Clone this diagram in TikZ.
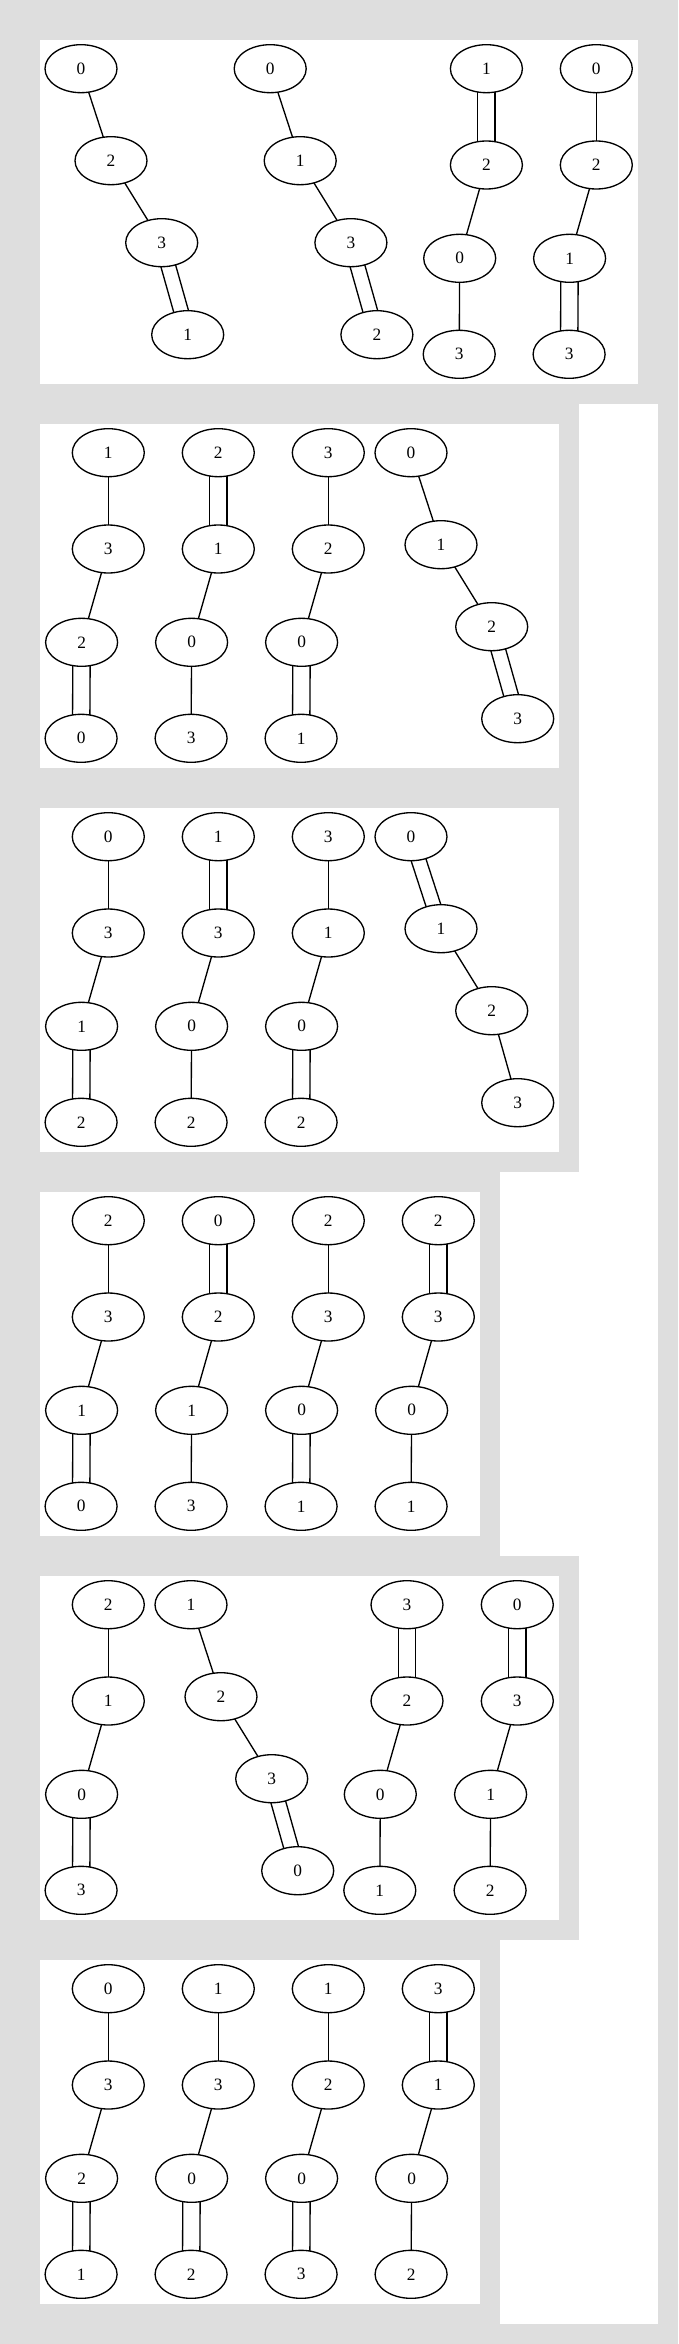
\documentclass[tikz,border=0pt]{standalone}
\usepackage{fontspec}
\setmainfont{Liberation Serif}
\usetikzlibrary{calc,shapes.geometric}
\pgfdeclarelayer{panels}
\pgfdeclarelayer{edges}
\pgfsetlayers{panels,edges,main}
\definecolor{clgray}{RGB}{222,222,222}
\tikzset{
  vtx/.style={ellipse, draw, fill=white, line width=1pt, minimum width=54pt,
    minimum height=36pt, inner sep=0pt, font=\fontsize{13}{13}\selectfont},
  lnk/.style={line width=1pt},
}
\newcommand\dbl[3]{%
  \draw[lnk] ($(#1.center)!#3!90:(#2.center)$) -- ($(#2.center)!#3!-90:(#1.center)$);
  \draw[lnk] ($(#1.center)!#3!-90:(#2.center)$) -- ($(#2.center)!#3!90:(#1.center)$);}
\newcommand\sgl[2]{\draw[lnk] (#1.center) -- (#2.center);}
\newcommand\chainedges[3]{%
  \begin{pgfonlayer}{edges}
  \ifcase#2\relax\or
    \dbl{#1a}{#1b}{#3}\sgl{#1b}{#1c}\sgl{#1c}{#1d}%
  \or
    \sgl{#1a}{#1b}\dbl{#1b}{#1c}{#3}\sgl{#1c}{#1d}%
  \or
    \sgl{#1a}{#1b}\sgl{#1b}{#1c}\dbl{#1c}{#1d}{#3}%
  \fi
  \end{pgfonlayer}}
\newcommand\stdcol[8]{%
  \node[vtx] (#1a) at (#2,#3+28.7) {#4};
  \node[vtx] (#1b) at (#2,#3+125) {#5};
  \node[vtx] (#1c) at (#2-26.7,#3+218.3) {#6};
  \node[vtx] (#1d) at (#2-27.2,#3+314.3) {#7};
  \chainedges{#1}{#8}{6.5pt}}
\newcommand\diagcol[8]{%
  \node[vtx] (#1a) at (#2,#3+28.7) {#4};
  \node[vtx] (#1b) at (#2+30,#3+120.7) {#5};
  \node[vtx] (#1c) at (#2+80.7,#3+202.7) {#6};
  \node[vtx] (#1d) at (#2+106.7,#3+294.7) {#7};
  \chainedges{#1}{#8}{5.5pt}}
\begin{document}
\begin{tikzpicture}[x=0.75pt,y=-0.75pt]
\useasboundingbox (0,0) rectangle (678,2344);
\begin{pgfonlayer}{panels}
  \fill[clgray] (0,0) rectangle (678,2344);
  \fill[white] (20,404) rectangle (658,2324);
  \fill[clgray] (20,404) rectangle (579,1172);
  \fill[clgray] (20,1172) rectangle (500,1556);
  \fill[clgray] (20,1556) rectangle (579,1940);
  \fill[clgray] (20,1940) rectangle (500,2324);
  \fill[white] (40,40) rectangle (638,384);
  \fill[white] (40,424) rectangle (559,768);
  \fill[white] (40,808) rectangle (559,1152);
  \fill[white] (40,1192) rectangle (480,1536);
  \fill[white] (40,1576) rectangle (559,1920);
  \fill[white] (40,1960) rectangle (480,2304);
\end{pgfonlayer}
% panel 1
\diagcol{pAa-}{81}{40}{0}{2}{3}{1}{3}
\diagcol{pAb-}{270.2}{40}{0}{1}{3}{2}{3}
\stdcol{pAc-}{486.4}{40}{1}{2}{0}{3}{1}
\stdcol{pAd-}{596.3}{40}{0}{2}{1}{3}{3}
% panel 2
\stdcol{pBa-}{108.3}{424}{1}{3}{2}{0}{3}
\stdcol{pBb-}{218.3}{424}{2}{1}{0}{3}{1}
\stdcol{pBc-}{328.3}{424}{3}{2}{0}{1}{3}
\diagcol{pBd-}{411}{424}{0}{1}{2}{3}{3}
% panel 3
\stdcol{pCa-}{108.3}{808}{0}{3}{1}{2}{3}
\stdcol{pCb-}{218.3}{808}{1}{3}{0}{2}{1}
\stdcol{pCc-}{328.3}{808}{3}{1}{0}{2}{3}
\diagcol{pCd-}{411}{808}{0}{1}{2}{3}{1}
% panel 4
\stdcol{pDa-}{108.3}{1192}{2}{3}{1}{0}{3}
\stdcol{pDb-}{218.3}{1192}{0}{2}{1}{3}{1}
\stdcol{pDc-}{328.3}{1192}{2}{3}{0}{1}{3}
\stdcol{pDd-}{438.3}{1192}{2}{3}{0}{1}{1}
% panel 5
\stdcol{pEa-}{108.3}{1576}{2}{1}{0}{3}{3}
\diagcol{pEb-}{191}{1576}{1}{2}{3}{0}{3}
\stdcol{pEc-}{407}{1576}{3}{2}{0}{1}{1}
\stdcol{pEd-}{517.3}{1576}{0}{3}{1}{2}{1}
% panel 6
\stdcol{pFa-}{108.3}{1960}{0}{3}{2}{1}{3}
\stdcol{pFb-}{218.3}{1960}{1}{3}{0}{2}{3}
\stdcol{pFc-}{328.3}{1960}{1}{2}{0}{3}{3}
\stdcol{pFd-}{438.3}{1960}{3}{1}{0}{2}{1}
\end{tikzpicture}
\end{document}
